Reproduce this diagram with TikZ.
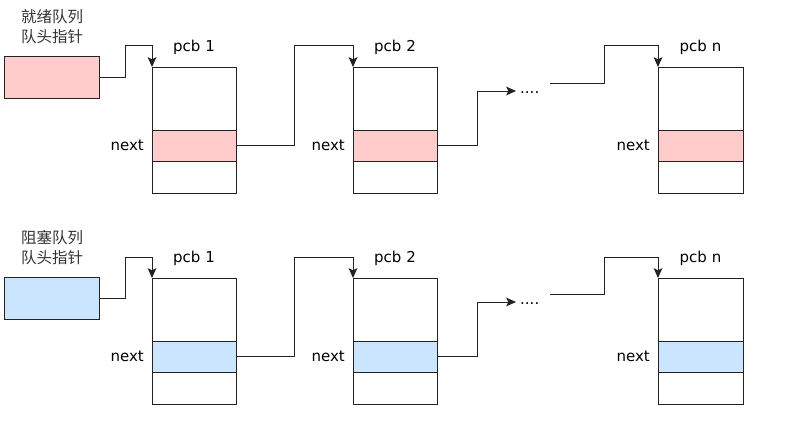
\documentclass[tikz,border=0pt]{standalone}
\usepackage{fontspec}
\setmainfont{DejaVu Sans}
\newfontfamily\cjk{Noto Sans CJK SC}
\usetikzlibrary{arrows.meta}
\definecolor{pinkf}{HTML}{FFCCCC}
\definecolor{bluef}{HTML}{CCE5FF}
\definecolor{linec}{HTML}{222222}
\tikzset{
  box/.style={draw=linec, line width=0.9pt, inner sep=0pt, outer sep=0pt},
  lbl/.style={font=\fontsize{15}{17}\selectfont, inner sep=0pt},
  cjklbl/.style={font=\cjk\fontsize{15.5}{20}\selectfont, align=center, inner sep=0pt, text=black!80},
  conn/.style={draw=linec, fill=none, line width=0.9pt, arrows={-Stealth[length=9pt,width=8pt,inset=2pt,scale=1.1]}}
}
\begin{document}
\begin{tikzpicture}[x=1pt,y=1pt]
\useasboundingbox (0,0) rectangle (785,-430);
% ===== top row =====
\node[cjklbl] (t1) at (52,-27) {就绪队列\\队头指针};
\node[box, fill=pinkf, minimum width=95pt, minimum height=42pt] (h1) at (51.5,-77) {};
\foreach \nm/\cx/\w/\t in {a/194/84/pcb 1, b/395/84/pcb 2, c/700.5/85/pcb n}{
  \node[box, fill=white, minimum width=\w pt, minimum height=63pt] (\nm1t) at (\cx,-98.5) {};
  \node[box, fill=pinkf, minimum width=\w pt, minimum height=31pt] (\nm1n) at (\cx,-145.5) {};
  \node[box, fill=white, minimum width=\w pt, minimum height=32pt] (\nm1b) at (\cx,-177) {};
  \node[lbl] (\nm1l) at (\cx,-47) {\t};
  \node[lbl, anchor=east] (\nm1x) at ([xshift=-8pt]\nm1n.west) {next};
}
\node[lbl, anchor=base west] (d1) at (520,-94) {....};
\coordinate (k1a) at (125,-45);
\coordinate (k1b) at (294,-45);
\coordinate (k1c) at (477,-91);
\coordinate (s1) at (550,-83);
\coordinate (k1d) at (604,-45);
\draw[conn] (h1.east) -| (k1a) -| (a1t.north west);
\draw[conn] (a1n.east) -| (k1b) -| (b1t.north west);
\draw[conn] (b1n.east) -| (k1c) -- ([xshift=-4pt]k1c -| d1.west);
\draw[conn] (s1) -| (k1d) -| (c1t.north west);
% ===== bottom row =====
\node[cjklbl] (t2) at (52,-248) {阻塞队列\\队头指针};
\node[box, fill=bluef, minimum width=95pt, minimum height=42pt] (h2) at (51.5,-298) {};
\foreach \nm/\cx/\w/\t in {a/194/84/pcb 1, b/395/84/pcb 2, c/700.5/85/pcb n}{
  \node[box, fill=white, minimum width=\w pt, minimum height=63pt] (\nm2t) at (\cx,-309.5) {};
  \node[box, fill=bluef, minimum width=\w pt, minimum height=31pt] (\nm2n) at (\cx,-356.5) {};
  \node[box, fill=white, minimum width=\w pt, minimum height=32pt] (\nm2b) at (\cx,-388) {};
  \node[lbl] (\nm2l) at (\cx,-258) {\t};
  \node[lbl, anchor=east] (\nm2x) at ([xshift=-8pt]\nm2n.west) {next};
}
\node[lbl, anchor=base west] (d2) at (520,-305) {....};
\coordinate (k2a) at (125,-257);
\coordinate (k2b) at (294,-257);
\coordinate (k2c) at (477,-302);
\coordinate (s2) at (550,-294);
\coordinate (k2d) at (604,-257);
\draw[conn] (h2.east) -| (k2a) -| (a2t.north west);
\draw[conn] (a2n.east) -| (k2b) -| (b2t.north west);
\draw[conn] (b2n.east) -| (k2c) -- ([xshift=-4pt]k2c -| d2.west);
\draw[conn] (s2) -| (k2d) -| (c2t.north west);
\end{tikzpicture}
\end{document}
